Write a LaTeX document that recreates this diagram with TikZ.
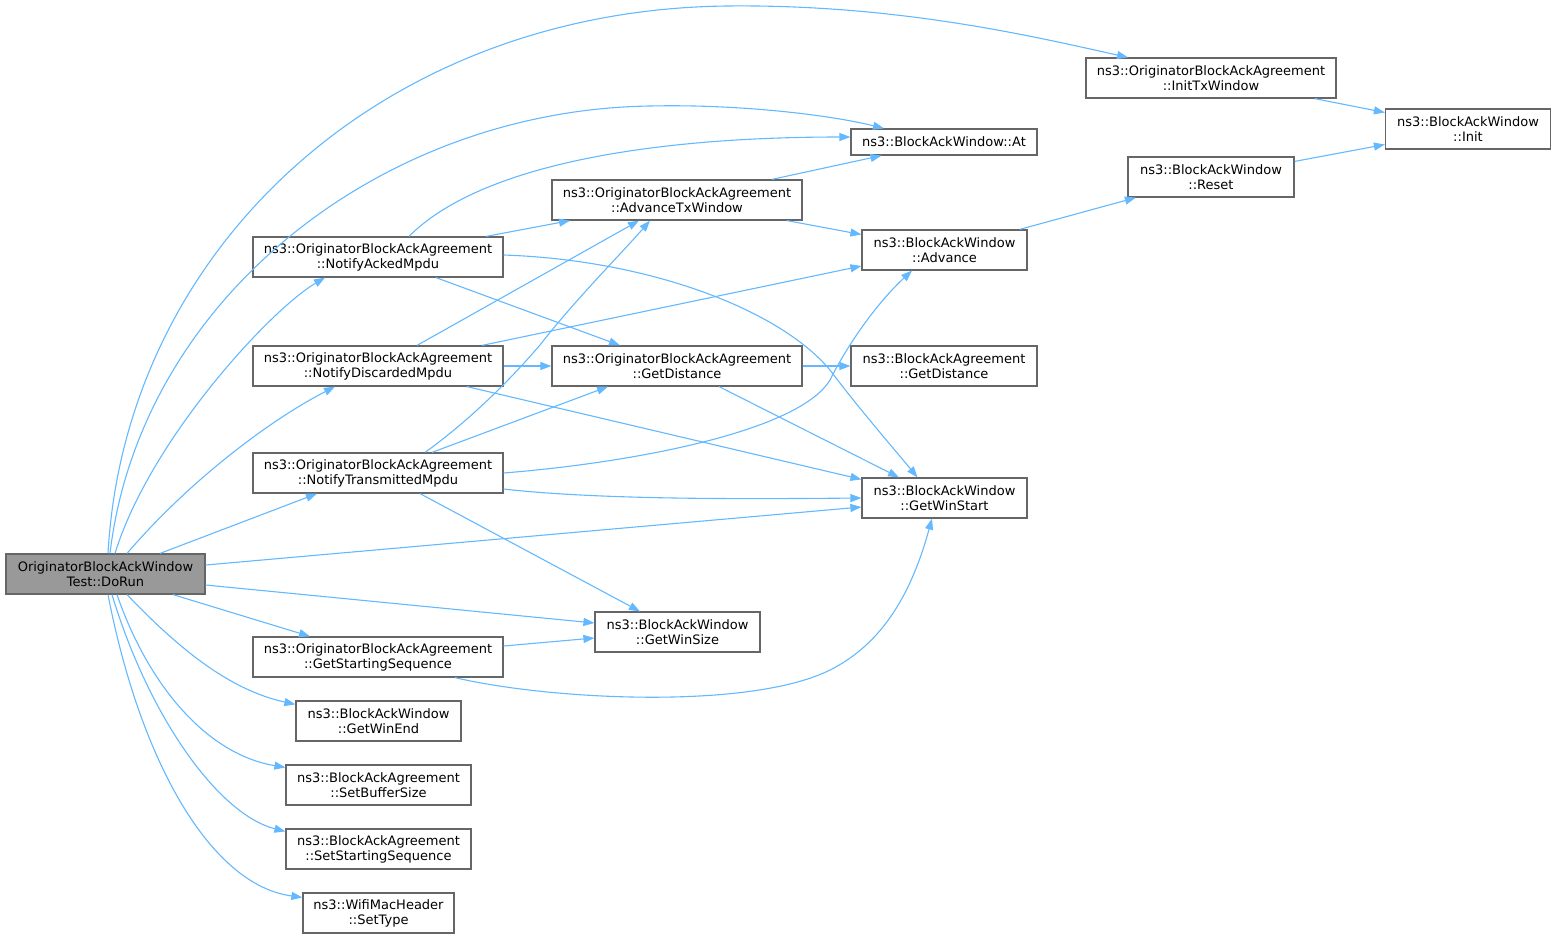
\documentclass[tikz,border=0pt]{standalone}
\usepackage{fontspec}
\setmainfont{DejaVu Sans}
\usetikzlibrary{arrows.meta}
\definecolor{edgeblue}{HTML}{63B8FF}
\definecolor{boxgray}{HTML}{666666}
\definecolor{rootfill}{HTML}{999999}

\begin{document}
\begin{tikzpicture}[x=1pt, y=-1pt, >={Triangle[length=11pt, width=8pt]}, font=\fontsize{13}{15}\selectfont,
  fn/.style={draw=boxgray, line width=1.2pt, fill=white, align=center, inner sep=0pt, minimum height=40pt},
  call/.style={->, draw=edgeblue, fill=none, line width=1.1pt}]
\useasboundingbox (0,0) rectangle (1555,938);
\node[fn, fill=rootfill, minimum width=199pt] (run) at (105.5,574) {OriginatorBlockAckWindow\\Test::DoRun};
\node[fn, minimum width=250pt] (inittx) at (1211,78) {ns3::OriginatorBlockAckAgreement\\::InitTxWindow};
\node[fn, minimum width=165pt] (init) at (1468,129) {ns3::BlockAckWindow\\::Init};
\node[fn, minimum width=186pt, minimum height=26pt] (getat) at (944,142) {ns3::BlockAckWindow::At};
\node[fn, minimum width=166pt] (reset) at (1211,177) {ns3::BlockAckWindow\\::Reset};
\node[fn, minimum width=250pt] (advtx) at (677,200) {ns3::OriginatorBlockAckAgreement\\::AdvanceTxWindow};
\node[fn, minimum width=250pt] (acked) at (378,257) {ns3::OriginatorBlockAckAgreement\\::NotifyAckedMpdu};
\node[fn, minimum width=165pt] (advance) at (944.5,250) {ns3::BlockAckWindow\\::Advance};
\node[fn, minimum width=250pt] (discarded) at (378,366) {ns3::OriginatorBlockAckAgreement\\::NotifyDiscardedMpdu};
\node[fn, minimum width=250pt] (getdist) at (677,366) {ns3::OriginatorBlockAckAgreement\\::GetDistance};
\node[fn, minimum width=186pt] (baadist) at (944,366) {ns3::BlockAckAgreement\\::GetDistance};
\node[fn, minimum width=250pt] (transmitted) at (378,473) {ns3::OriginatorBlockAckAgreement\\::NotifyTransmittedMpdu};
\node[fn, minimum width=165pt] (winstart) at (944.5,498) {ns3::BlockAckWindow\\::GetWinStart};
\node[fn, minimum width=165pt] (winsize) at (677.5,632) {ns3::BlockAckWindow\\::GetWinSize};
\node[fn, minimum width=250pt] (startseq) at (378,657) {ns3::OriginatorBlockAckAgreement\\::GetStartingSequence};
\node[fn, minimum width=165pt] (winend) at (378.5,721) {ns3::BlockAckWindow\\::GetWinEnd};
\node[fn, minimum width=185pt] (bufsize) at (378.5,785) {ns3::BlockAckAgreement\\::SetBufferSize};
\node[fn, minimum width=185pt] (setseq) at (378.5,849) {ns3::BlockAckAgreement\\::SetStartingSequence};
\node[fn, minimum width=151pt] (settype) at (378.5,913) {ns3::WifiMacHeader\\::SetType};
% calls out of DoRun
\draw[call] ([xshift=2.5pt]run.north) .. controls (125,250) and (380,10) .. (727,6) .. controls (900,4) and (1040,38) .. ([xshift=-83pt]inittx.north);
\draw[call] ([xshift=4.5pt]run.north) .. controls (140,300) and (380,110) .. (650,106) .. controls (740,104) and (830,115) .. ([xshift=-60pt]getat.north);
\draw[call] ([xshift=9.5pt]run.north) .. controls (150,440) and (270,310) .. ([xshift=-53pt]acked.south);
\draw[call] ([xshift=21.5pt]run.north) .. controls (190,480) and (270,420) .. ([xshift=-43pt]discarded.south);
\draw[call] ([xshift=54.5pt]run.north) -- ([xshift=-61pt]transmitted.south);
\draw[call] ([yshift=9pt]run.east) -- ([yshift=-9pt]winstart.west);
\draw[call] ([yshift=-11pt]run.east) -- ([yshift=9pt]winsize.west);
\draw[call] ([xshift=67.5pt]run.south) -- ([xshift=-68pt]startseq.north);
\draw[call] ([xshift=21.5pt]run.south) .. controls (180,650) and (230,690) .. ([yshift=-4pt]winend.north west);
\draw[call] ([xshift=11.5pt]run.south) .. controls (150,690) and (210,755) .. ([yshift=-3pt]bufsize.north west);
\draw[call] ([xshift=6.5pt]run.south) .. controls (150,720) and (220,815) .. ([yshift=-3pt]setseq.north west);
\draw[call] ([xshift=2.5pt]run.south) .. controls (140,760) and (210,885) .. ([yshift=-5pt]settype.north west);
% calls between the callees
\draw[call] (inittx) -- (init);
\draw[call] (reset) -- (init);
\draw[call] (advance) -- (reset);
\draw[call] (advtx) -- (getat);
\draw[call] (advtx) -- (advance);
\draw[call] ([xshift=31pt]acked.north) .. controls (480,165) and (650,137) .. ([yshift=5pt]getat.west);
\draw[call] ([xshift=108pt]acked.north) -- ([xshift=-107pt]advtx.south);
\draw[call] ([xshift=58pt]acked.south) -- ([xshift=-57pt]getdist.north);
\draw[call] ([yshift=2pt]acked.east) .. controls (650,260) and (780,310) .. (830,370) .. controls (860,410) and (895,450) .. ([xshift=-27pt]winstart.north);
\draw[call] ([xshift=39pt]discarded.north) -- ([xshift=-38pt]advtx.south);
\draw[call] ([xshift=104pt]discarded.north) -- ([yshift=-16pt]advance.west);
\draw[call] (discarded) -- (getdist);
\draw[call] ([xshift=89pt]discarded.south) -- ([yshift=-2pt]winstart.north west);
\draw[call] ([xshift=47pt]transmitted.north) .. controls (470,420) and (510,380) .. (540,345) .. controls (575,300) and (620,255) .. ([xshift=-27pt]advtx.south);
\draw[call] ([xshift=54pt]transmitted.north) -- ([xshift=-69pt]getdist.south);
\draw[call] (transmitted.east) .. controls (640,462) and (800,430) .. (830,380) .. controls (850,340) and (880,300) .. ([xshift=-32.5pt]advance.south);
\draw[call] ([yshift=-16pt]transmitted.east) .. controls (600,500) and (750,499) .. (winstart.west);
\draw[call] ([xshift=42pt]transmitted.south) -- ([xshift=-37.5pt]winsize.north);
\draw[call] (getdist) -- (baadist);
\draw[call] ([xshift=42pt]getdist.south) -- ([xshift=-45.5pt]winstart.north);
\draw[call] ([yshift=11pt]startseq.east) -- ([yshift=-6pt]winsize.west);
\draw[call] ([xshift=77pt]startseq.south) .. controls (550,700) and (750,710) .. (830,670) .. controls (890,640) and (915,580) .. ([xshift=-12.5pt]winstart.south);
\end{tikzpicture}
\end{document}
